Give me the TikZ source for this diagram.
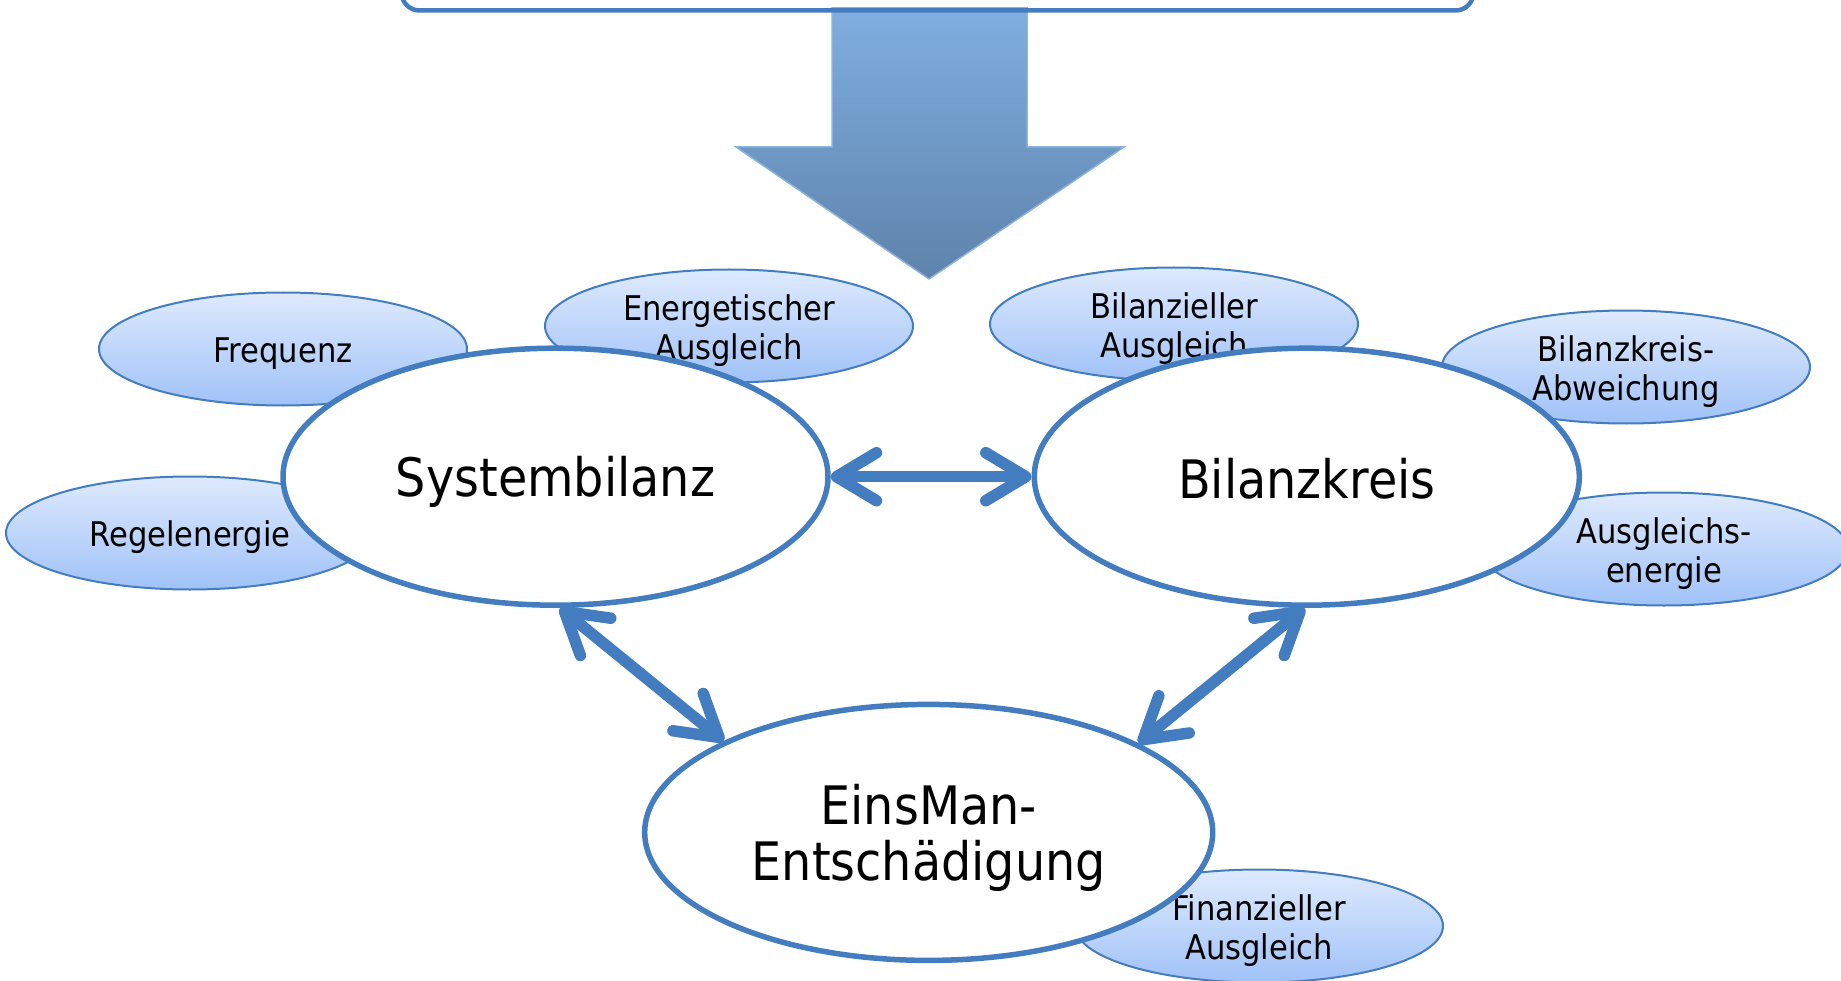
\documentclass[tikz,border=0pt]{standalone}
\usepackage{fontspec}
\setmainfont{DejaVu Sans}[FakeStretch=0.9]
\usetikzlibrary{arrows.meta,shapes.geometric}
\definecolor{bord}{RGB}{68,125,191}
\definecolor{smtop}{RGB}{222,234,253}
\definecolor{smbot}{RGB}{160,194,248}
\definecolor{artop}{RGB}{127,174,224}
\definecolor{arbot}{RGB}{95,131,171}
\definecolor{arbord}{RGB}{140,178,224}
\tikzset{
  small/.style={ellipse, draw=bord, line width=2pt, top color=smtop, bottom color=smbot,
    minimum width=368pt, minimum height=113pt, inner sep=0pt},
  smtxt/.style={align=center, font=\fontsize{34}{39}\selectfont, yshift=-4.5pt, inner sep=0pt},
  big/.style={ellipse, draw=bord, line width=5.5pt, fill=white,
    minimum width=545pt, minimum height=257pt, inner sep=0pt},
  bigtxt/.style={align=center, font=\fontsize{53}{56}\selectfont, yshift=-5pt, inner sep=0pt},
  dbl/.style={draw=bord, line width=11.5pt,
    {Straight Barb[length=40pt,width=48pt,round]}-{Straight Barb[length=40pt,width=48pt,round]}},
  bigarrow/.style={draw=arbord, line width=1.5pt, top color=artop, bottom color=arbot},
  topbox/.style={draw=bord, line width=4.5pt, rounded corners=18pt}
}
\begin{document}
\begin{tikzpicture}[x=1pt,y=1pt]
\useasboundingbox (0,0) rectangle (1841,-981);
\clip (0,0) rectangle (1841,-981);
% big arrow
\path[bigarrow] (832,-8) -- (1027,-8) -- (1027,-147) -- (1124,-147) -- (929,-279)
  -- (736,-147) -- (832,-147) -- cycle;
% top box
\draw[topbox] (401.5,40) -- (401.5,-10.5) -- (1473.5,-10.5) -- (1473.5,40);
% small ellipses
\node[small, label={[smtxt]center:Frequenz}] (freq) at (283,-349) {};
\node[small, label={[smtxt]center:{Energetischer\\Ausgleich}}] (energ) at (729,-326) {};
\node[small, label={[smtxt]center:{Bilanzieller\\Ausgleich}}] (bilaus) at (1174,-324) {};
\node[small, label={[smtxt]center:{Bilanzkreis-\\Abweichung}}] (abw) at (1626,-367) {};
\node[small, label={[smtxt]center:Regelenergie}] (regel) at (190,-533) {};
\node[small, label={[smtxt]center:{Ausgleichs-\\energie}}] (ausgl) at (1664,-549) {};
\node[small, label={[smtxt]center:{Finanzieller\\Ausgleich}}] (finanz) at (1259,-926) {};
% big ellipses
\node[big, label={[bigtxt]center:Systembilanz}] (sys) at (555.5,-476.7) {};
\node[big, label={[bigtxt, yshift=3pt]center:Bilanzkreis}] (bil) at (1306.8,-476.7) {};
\node[big, minimum width=568pt, minimum height=256pt,
  label={[bigtxt]center:{EinsMan-\\Entschädigung}}] (ein) at (928.7,-832.4) {};
% connectors
\draw[dbl] (sys.-88) -- (ein.156);
\draw[dbl] (bil.-91) -- (ein.23);
\draw[dbl] (sys.east) -- (bil.west);
\end{tikzpicture}
\end{document}
